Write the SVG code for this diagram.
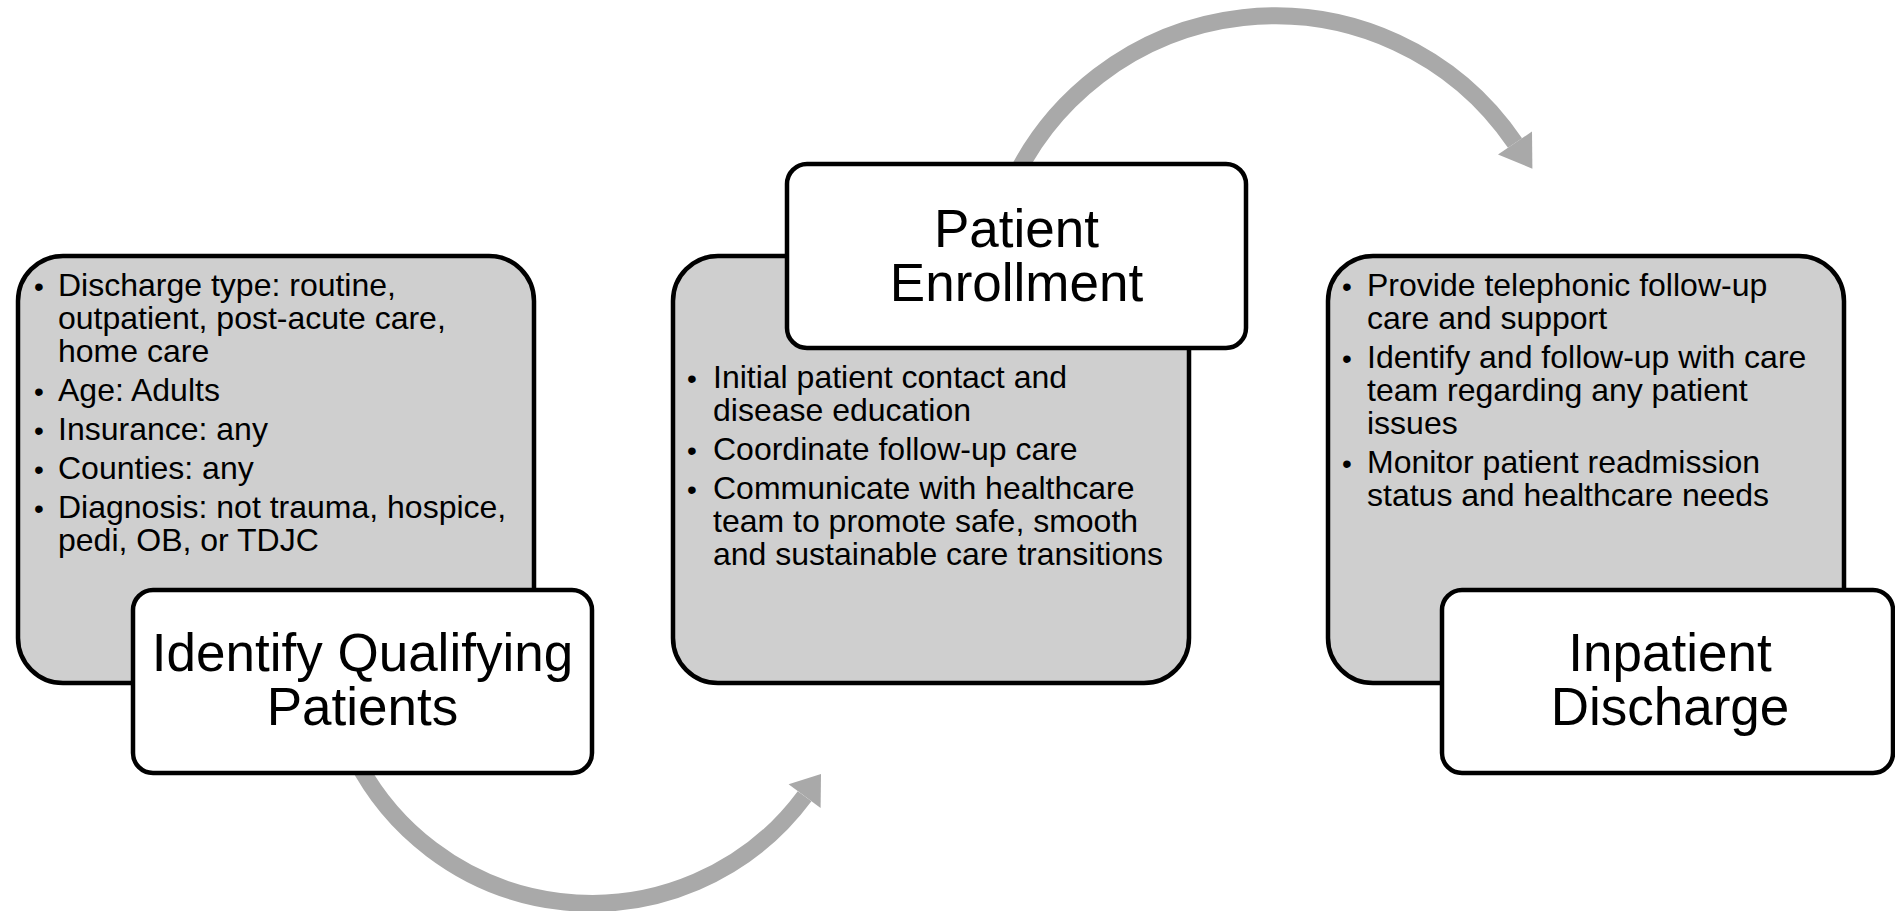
<svg xmlns="http://www.w3.org/2000/svg" width="1895" height="911" viewBox="0 0 1895 911">
<style>
.bg{fill:#ffffff}
.detail{fill:#cfcfcf;stroke:#000;stroke-width:4.5}
.title{fill:#ffffff;stroke:#000;stroke-width:4.5}
.arc{fill:none;stroke:#a9a9a9;stroke-width:17}
.head{fill:#a9a9a9;stroke:none}
text{font-family:"Liberation Sans",Arial,sans-serif;fill:#000}
.b{font-size:32px}
.d{font-size:28px}
.t{font-size:53px;text-anchor:middle}
</style>
<rect class="bg" x="0" y="0" width="1895" height="911"/>
<g id="connectors">
<path class="arc" d="M1005,200 A290,290 0 0 1 1515,143"/>
<polygon class="head" points="1532.4,168.7 1532,131.5 1498,154.5"/>
<path class="arc" d="M347,740 A265,265 0 0 0 804.6,796.2"/>
<polygon class="head" points="821,774 820.6,808.1 788.6,784.3"/>
</g>
<g id="node1">
<rect class="detail" x="18" y="256" width="516" height="427" rx="45"/>
<text class="d"><tspan x="34" y="296">•</tspan><tspan x="34" y="401">•</tspan><tspan x="34" y="440">•</tspan><tspan x="34" y="479">•</tspan><tspan x="34" y="518">•</tspan></text>
<text class="b"><tspan x="58" y="296">Discharge type: routine,</tspan><tspan x="58" y="329">outpatient, post-acute care,</tspan><tspan x="58" y="362">home care</tspan><tspan x="58" y="401">Age: Adults</tspan><tspan x="58" y="440">Insurance: any</tspan><tspan x="58" y="479">Counties: any</tspan><tspan x="58" y="518">Diagnosis: not trauma, hospice,</tspan><tspan x="58" y="551">pedi, OB, or TDJC</tspan></text>
<rect class="title" x="133" y="590" width="459" height="183" rx="20"/>
<text class="t"><tspan x="362.5" y="671">Identify Qualifying</tspan><tspan x="362.5" y="725">Patients</tspan></text>
</g>
<g id="node2">
<rect class="detail" x="673" y="256" width="516" height="427" rx="45"/>
<text class="d"><tspan x="687" y="388">•</tspan><tspan x="687" y="460">•</tspan><tspan x="687" y="499">•</tspan></text>
<text class="b"><tspan x="713" y="388">Initial patient contact and</tspan><tspan x="713" y="421">disease education</tspan><tspan x="713" y="460">Coordinate follow-up care</tspan><tspan x="713" y="499">Communicate with healthcare</tspan><tspan x="713" y="532">team to promote safe, smooth</tspan><tspan x="713" y="565">and sustainable care transitions</tspan></text>
<rect class="title" x="787" y="164" width="459" height="184" rx="20"/>
<text class="t"><tspan x="1016.5" y="247">Patient</tspan><tspan x="1016.5" y="301">Enrollment</tspan></text>
</g>
<g id="node3">
<rect class="detail" x="1328" y="256" width="516" height="427" rx="45"/>
<text class="d"><tspan x="1342" y="296">•</tspan><tspan x="1342" y="368">•</tspan><tspan x="1342" y="473">•</tspan></text>
<text class="b"><tspan x="1367" y="296">Provide telephonic follow-up</tspan><tspan x="1367" y="329">care and support</tspan><tspan x="1367" y="368">Identify and follow-up with care</tspan><tspan x="1367" y="401">team regarding any patient</tspan><tspan x="1367" y="434">issues</tspan><tspan x="1367" y="473">Monitor patient readmission</tspan><tspan x="1367" y="506">status and healthcare needs</tspan></text>
<rect class="title" x="1442" y="590" width="451" height="183" rx="20"/>
<text class="t"><tspan x="1670" y="671">Inpatient</tspan><tspan x="1670" y="725">Discharge</tspan></text>
</g>
</svg>
